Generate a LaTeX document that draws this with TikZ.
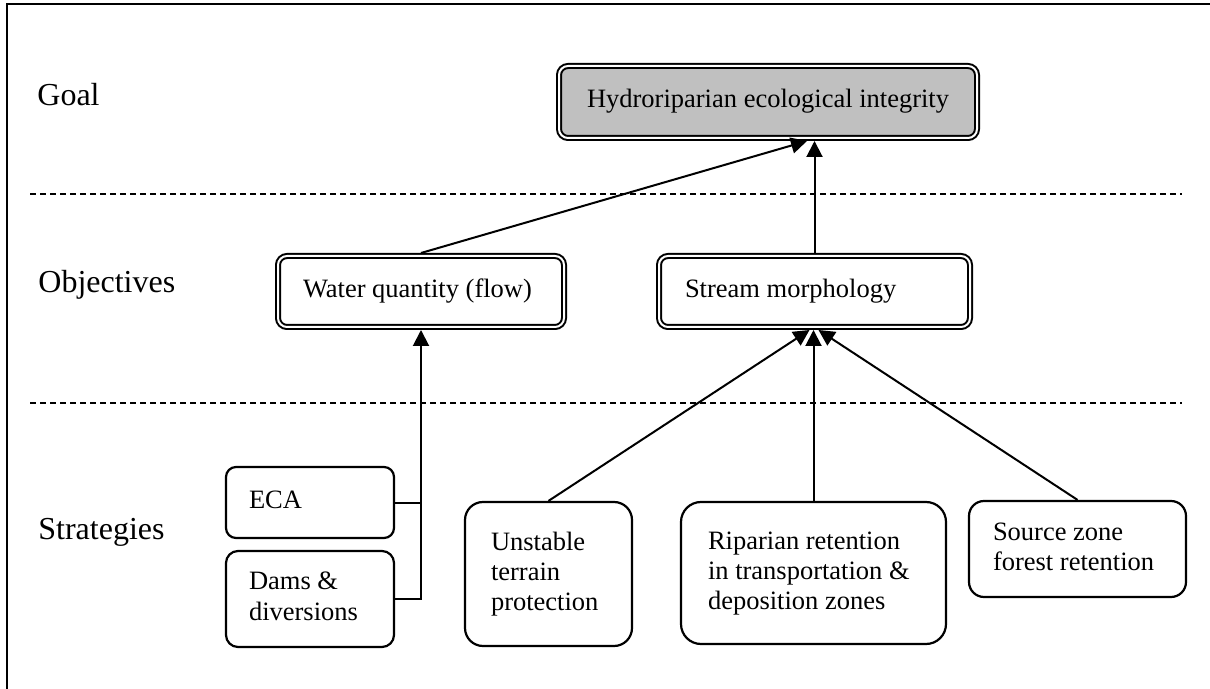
\documentclass[tikz,border=0pt]{standalone}
\usepackage{fontspec}
\setmainfont{Liberation Serif}
\usetikzlibrary{arrows.meta}
% left-aligned block of lines inside a fixed-width box
\newcommand\boxlines[2]{\makebox[#1][l]{\begin{tabular}{@{}l@{}}#2\end{tabular}}}
\definecolor{goalgray}{RGB}{192,192,192}
\begin{document}
\begin{tikzpicture}[x=0.5pt,y=-0.5pt,
  every node/.style={font=\fontsize{13.25}{15}\selectfont},
  levellabel/.style={anchor=west,inner sep=0pt,font=\fontsize{16}{18}\selectfont},
  objbox/.style={draw,line width=1pt,double=white,double distance=1pt,
    rounded corners=4.5pt,outer sep=1.5pt,inner ysep=0pt},
  stratbox/.style={draw,line width=1.1pt,inner ysep=0pt,outer sep=0.55pt},
  conn/.style={line width=1pt},
  arr/.style={conn,-{Triangle[width=8pt,length=8pt]}},
  divider/.style={line width=0.9pt,dash pattern=on 3pt off 2pt}]
\useasboundingbox (0,0) rectangle (1210,689);
% outer frame
\draw[line width=1.1pt] (7,689) -- (7,4) -- (1210,4);
% level dividers
\draw[divider] (30,194) -- (1182,194);
\draw[divider] (30,403) -- (1182,403);
% level labels
\node[levellabel] (lgoal) at (37,95) {Goal};
\node[levellabel] (lobj) at (38,285) {Objectives};
\node[levellabel] (lstrat) at (38,532) {Strategies};
% goal
\node[objbox,fill=goalgray,minimum width=209pt,minimum height=36pt,inner xsep=14pt]
  (goal) at (768,102) {\boxlines{181pt}{Hydroriparian ecological integrity}};
% objectives
\node[objbox,minimum width=143pt,minimum height=35.5pt,inner xsep=12.5pt]
  (water) at (421,291.5) {\boxlines{118pt}{Water quantity (flow)}};
\node[objbox,minimum width=155.5pt,minimum height=35.5pt,inner xsep=13pt]
  (stream) at (814.5,291.5) {\boxlines{129.5pt}{Stream morphology}};
% strategies
\node[stratbox,rounded corners=5pt,minimum width=84pt,minimum height=35.5pt,inner xsep=11.5pt]
  (eca) at (310,502.5) {\boxlines{61pt}{ECA}};
\node[stratbox,rounded corners=6pt,minimum width=84pt,minimum height=48pt,inner xsep=11.5pt]
  (dams) at (310,599) {\boxlines{61pt}{Dams \&\\diversions}};
\node[stratbox,rounded corners=9pt,minimum width=83.5pt,minimum height=72pt,inner xsep=13pt]
  (unstable) at (548.5,574) {\boxlines{57.5pt}{Unstable\\terrain\\protection}};
\node[stratbox,rounded corners=10pt,minimum width=132.5pt,minimum height=71pt,inner xsep=13.5pt]
  (riparian) at (813.5,573) {\boxlines{105.5pt}{Riparian retention\\in transportation \&\\deposition zones}};
\node[stratbox,rounded corners=7.5pt,minimum width=108.5pt,minimum height=48pt,inner xsep=12pt]
  (source) at (1077.5,549) {\boxlines{84.5pt}{Source zone\\forest retention}};
% connectors
\draw[conn] (eca.east) -- (eca.east -| water.south);
\draw[arr] (dams.east) -| (water.south);
\draw[arr] (unstable.north) -- ([xshift=-2.5pt]stream.south);
\draw[arr] (riparian.north) -- (riparian.north |- stream.south);
\draw[arr] (source.north) -- ([xshift=2pt]stream.south);
\draw[arr] (water.north) -- ([xshift=19.5pt]goal.south);
\draw[arr] (stream.north) -- (stream.north |- goal.south);
\end{tikzpicture}
\end{document}
